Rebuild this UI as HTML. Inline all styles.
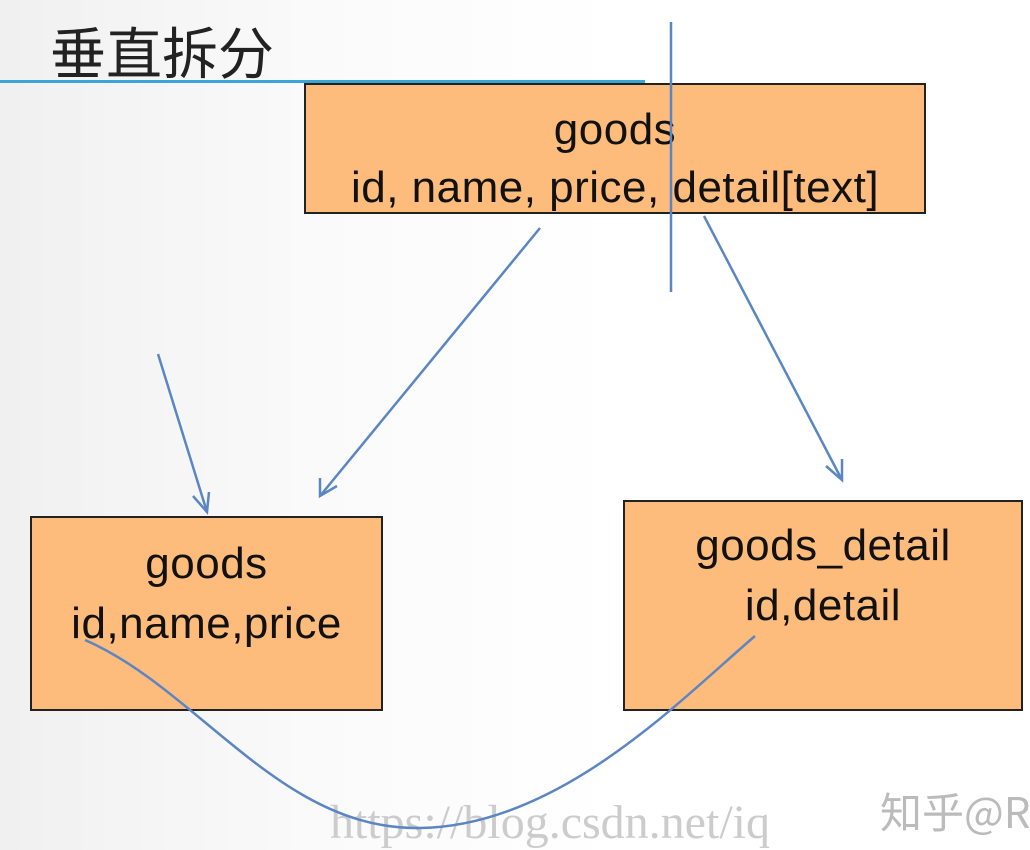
<!DOCTYPE html>
<html><head><meta charset="utf-8"><style>
html,body{margin:0;padding:0;}
body{width:1030px;height:832px;position:relative;overflow:hidden;background:linear-gradient(90deg,#f0f0f0 0%,#fafafa 30%,#fff 60%);font-family:"Liberation Sans","Noto Sans CJK SC",sans-serif;}
.box{position:absolute;background:#fdbb7c;border:2px solid #222;box-sizing:border-box;text-align:center;color:#111;font-size:44px;letter-spacing:0.5px;line-height:60px;white-space:nowrap;}
.t{position:absolute;left:50px;top:16px;font-size:56px;color:#222;font-family:"Noto Sans CJK SC",sans-serif;line-height:70px;}
.wm{position:absolute;color:#ccc;font-family:"Liberation Serif","Noto Sans CJK SC",serif;font-size:48px;white-space:nowrap;}
</style></head><body>
<div class="t">垂直拆分</div>
<div style="position:absolute;left:0;top:80px;width:645px;height:3px;background:#3aa6d4"></div>
<div class="box" style="left:304px;top:83px;width:622px;height:131px;padding-top:16px;line-height:58px">goods<br>id, name, price, detail[text]</div>
<div class="box" style="left:30px;top:516px;width:353px;height:195px;padding-top:16px">goods<br>id,name,price</div>
<div class="box" style="left:623px;top:500px;width:400px;height:211px;padding-top:14px">goods_detail<br>id,detail</div>
<div class="wm" style="left:330px;top:795px">https://blog.csdn.net/iq</div>
<div class="wm" style="left:880px;top:780px;font-family:'Noto Sans CJK SC',sans-serif;font-size:42px;color:#bbb">知乎@R</div>
<svg width="1030" height="832" style="position:absolute;left:0;top:0" fill="none" stroke="#5b86c4" stroke-width="2.5">
<line x1="671" y1="22" x2="671" y2="292"/>
<line x1="540" y1="228" x2="320" y2="496"/>
<polyline points="320,478 320,496 337,486"/>
<line x1="158" y1="354" x2="207" y2="512"/>
<polyline points="193,496 207,512 209,492"/>
<line x1="704" y1="216" x2="842" y2="480"/>
<polyline points="826,466 842,480 842,459"/>
<path d="M85,640 C200,690 280,830 420,828 C560,826 680,700 755,636"/>
</svg>
</body></html>
